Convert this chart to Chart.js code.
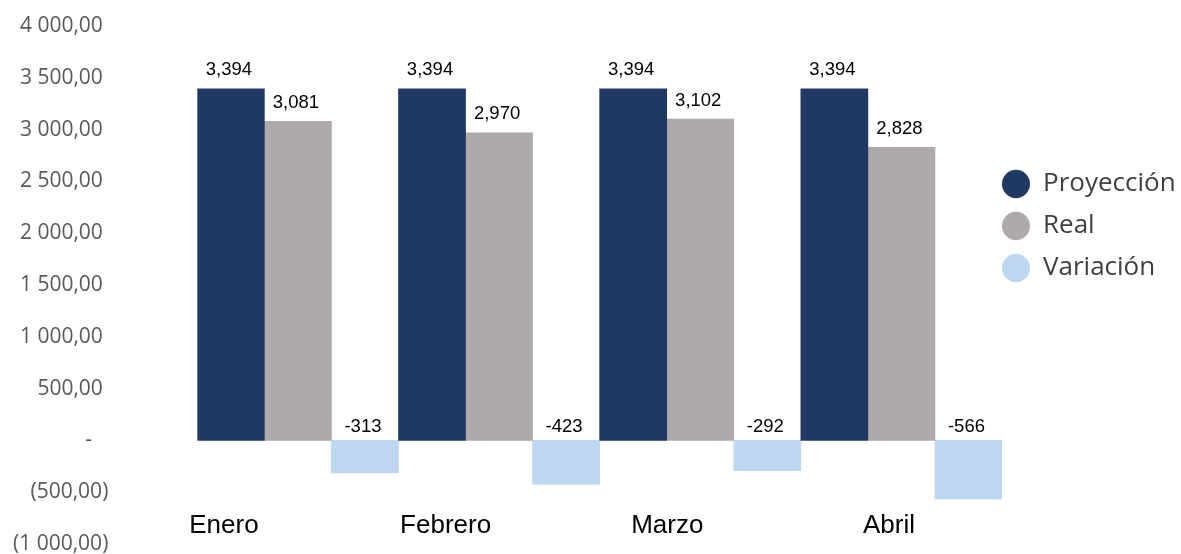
<!DOCTYPE html>
<html lang="es">
<head>
<meta charset="utf-8">
<title>Proyección vs Real</title>
<script src="https://cdn.jsdelivr.net/npm/chart.js@4/dist/chart.umd.min.js"></script>
<style>
  html, body { margin: 0; padding: 0; background: #fff; }
  .wrap { position: relative; width: 1181px; height: 554px; }
</style>
</head>
<body>
<div class="wrap"><canvas id="chartMain"></canvas></div>
<script>
(function () {
    'use strict';

    const meses = ['Enero', 'Febrero', 'Marzo', 'Abril'];
    const proyeccion = [3394, 3394, 3394, 3394];
    const real = [3081, 2970, 3102, 2828];
    const variacion = [-313, -423, -292, -566];

    const yMin = -1000;
    const yMax = 4000;
    const yStep = 500;

    const tickColor = '#595959';
    const legendColor = '#404040';

    // formato contable: 4 000,00 / - / (500,00)
    function fmtTick(v) {
        if (v === 0) return '-   ';
        const s = Math.abs(v).toFixed(2).replace('.', ',').replace(/\B(?=(\d{3})+(?!\d))/g, ' ');
        return v < 0 ? '(' + s + ')' : s + ' ';
    }

    // etiquetas de datos encima de cada barra
    const barLabels = {
        id: 'barLabels',
        afterDatasetsDraw(chart) {
            const ctx = chart.ctx;
            ctx.save();
            ctx.font = '18.5px "Liberation Sans", Arial, sans-serif';
            ctx.fillStyle = '#000';
            ctx.textAlign = 'center';
            ctx.textBaseline = 'alphabetic';
            chart.data.datasets.forEach((ds, i) => {
                const meta = chart.getDatasetMeta(i);
                meta.data.forEach((bar, j) => {
                    const v = ds.data[j];
                    const y = v >= 0 ? bar.y - 13.5 : bar.base - 8;
                    ctx.fillText(v.toLocaleString('en-US'), bar.x - 2, y);
                });
            });
            ctx.restore();
        },
    };

    const legendDefaults = Chart.defaults.plugins.legend.labels.generateLabels;

    new Chart(document.getElementById('chartMain'), {
        type: 'bar',
        data: {
            labels: meses,
            datasets: [
                { label: 'Proyección', data: proyeccion, backgroundColor: '#203864' },
                { label: 'Real', data: real, backgroundColor: '#aeaaaa' },
                { label: 'Variación', data: variacion, backgroundColor: '#bdd7ee' },
            ],
        },
        options: {
            responsive: true,
            maintainAspectRatio: false,
            animation: false,
            layout: { padding: { top: 26, bottom: 10, left: 13, right: 0 } },
            datasets: {
                bar: { categoryPercentage: 1, barPercentage: 1, borderWidth: 0 },
            },
            plugins: {
                tooltip: { enabled: false },
                legend: {
                    position: 'right',
                    align: 'start',
                    maxWidth: 179,
                    title: { display: true, text: '', padding: { top: 0, bottom: 130.6 } },
                    labels: {
                        color: legendColor,
                        font: { family: '"Open Sans", sans-serif', size: 26, lineHeight: '42px' },
                        usePointStyle: true,
                        pointStyleWidth: 28,
                        boxHeight: 20,
                        padding: 0,
                        generateLabels: (chart) => legendDefaults(chart).map((l) => ({
                            ...l, text: [l.text], pointStyle: 'circle', lineWidth: 0,
                        })),
                    },
                },
            },
            scales: {
                x: { display: false },
                // eje de etiquetas de mes (desplazado como en el original)
                xMes: {
                    axis: 'x',
                    type: 'linear',
                    position: { y: -500 },
                    offset: false,
                    min: -0.12,
                    max: 3.51,
                    grid: { display: false, drawTicks: false },
                    border: { display: false },
                    afterFit: (s) => { s.paddingLeft = 0; s.paddingRight = 0; },
                    ticks: {
                        stepSize: 1,
                        includeBounds: false,
                        autoSkip: false,
                        maxRotation: 0,
                        padding: 18.5,
                        color: '#000',
                        font: { family: '"Liberation Sans", Arial, sans-serif', size: 26 },
                        callback: (v) => meses[v],
                    },
                },
                y: {
                    min: yMin,
                    max: yMax,
                    grid: { display: false, drawTicks: false },
                    border: { display: false },
                    afterFit: (s) => {
                        s.paddingTop = 0;
                        s.paddingBottom = 0;
                        s.width -= s.options.ticks.padding;
                    },
                    ticks: {
                        stepSize: yStep,
                        padding: 89,
                        color: tickColor,
                        font: { family: '"Open Sans", sans-serif', size: 21 },
                        callback: (v) => fmtTick(v),
                    },
                },
            },
        },
        plugins: [barLabels],
    });
})();
</script>
</body>
</html>
